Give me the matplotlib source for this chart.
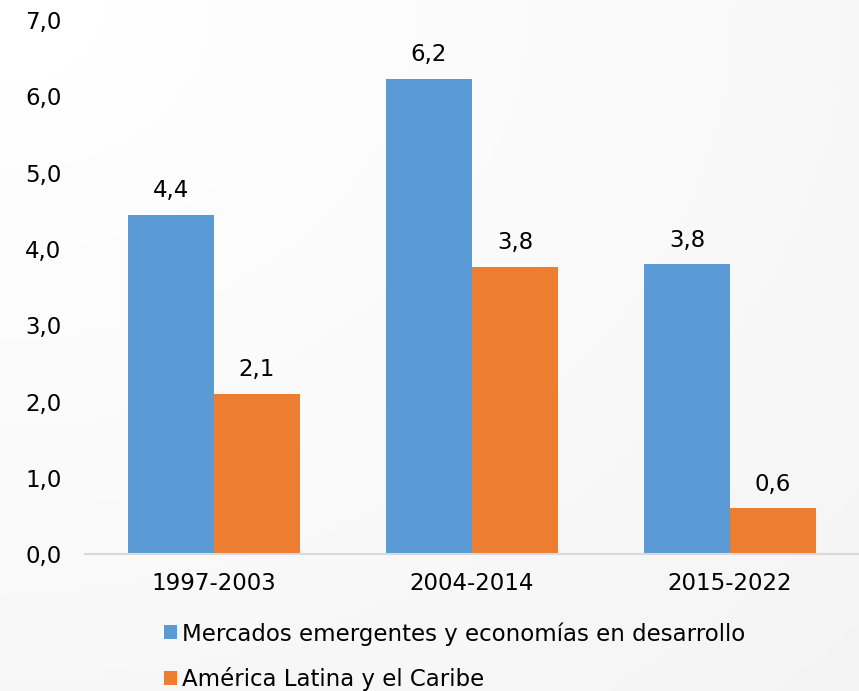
import matplotlib.pyplot as plt
import numpy as np

periodos = ['1997-2003', '2004-2014', '2015-2022']
emergentes = [4.45, 6.23, 3.80]
america_latina = [2.10, 3.77, 0.60]
etiquetas_emergentes = ['4,4', '6,2', '3,8']
etiquetas_al = ['2,1', '3,8', '0,6']
series_nombres = ['Mercados emergentes y economías en desarrollo',
                  'América Latina y el Caribe']

azul = '#5B9BD5'
naranja = '#ED7D31'
tam = 16.5

plt.rcParams['font.family'] = ['DejaVu Sans']

fig = plt.figure(figsize=(8.59, 6.91), dpi=100)

# fondo con degradado suave
fondo = fig.add_axes([0, 0, 1, 1], zorder=-10)
yy, xx = np.mgrid[0:1:200j, 0:1:200j]
grad = np.sqrt(xx**2 + yy**2) / np.sqrt(2)
fondo.imshow(1 - 0.045 * grad, cmap='gray', vmin=0, vmax=1, aspect='auto',
             extent=[0, 1, 0, 1], origin='upper')
fondo.axis('off')

ax = fig.add_axes([0.099, 0.198, 0.901, 0.773])
ax.patch.set_alpha(0)

x = np.arange(len(periodos))
ancho = 1 / 3
b1 = ax.bar(x - ancho / 2, emergentes, ancho, color=azul, label=series_nombres[0])
b2 = ax.bar(x + ancho / 2, america_latina, ancho, color=naranja, label=series_nombres[1])

for barras, textos in [(b1, etiquetas_emergentes), (b2, etiquetas_al)]:
    for barra, txt in zip(barras, textos):
        ax.annotate(txt, (barra.get_x() + barra.get_width() / 2, barra.get_height()),
                    xytext=(0, 9), textcoords='offset points', ha='center', va='bottom',
                    fontsize=tam)

ax.set_xlim(-0.5, 2.5)
ax.set_ylim(0, 7)
ax.set_yticks(np.arange(0, 8, 1))
ax.set_yticklabels([f'{v:.1f}'.replace('.', ',') for v in range(8)], fontsize=tam)
ax.set_xticks(x)
ax.set_xticklabels(periodos, fontsize=tam)
ax.tick_params(axis='x', length=0, pad=13)
ax.tick_params(axis='y', length=0, pad=17)

for s in ['top', 'right', 'left']:
    ax.spines[s].set_visible(False)
ax.spines['bottom'].set_color('#D9D9D9')
ax.spines['bottom'].set_linewidth(1.5)

fig.legend(handles=[b1, b2], loc='upper left', bbox_to_anchor=(164 / 859, 1 - 622 / 691),
           frameon=False, fontsize=tam, handlelength=0.55, handleheight=0.55,
           handletextpad=0.25, labelspacing=0.95, borderaxespad=0, borderpad=0)

fig.savefig('out.png', dpi=100)
